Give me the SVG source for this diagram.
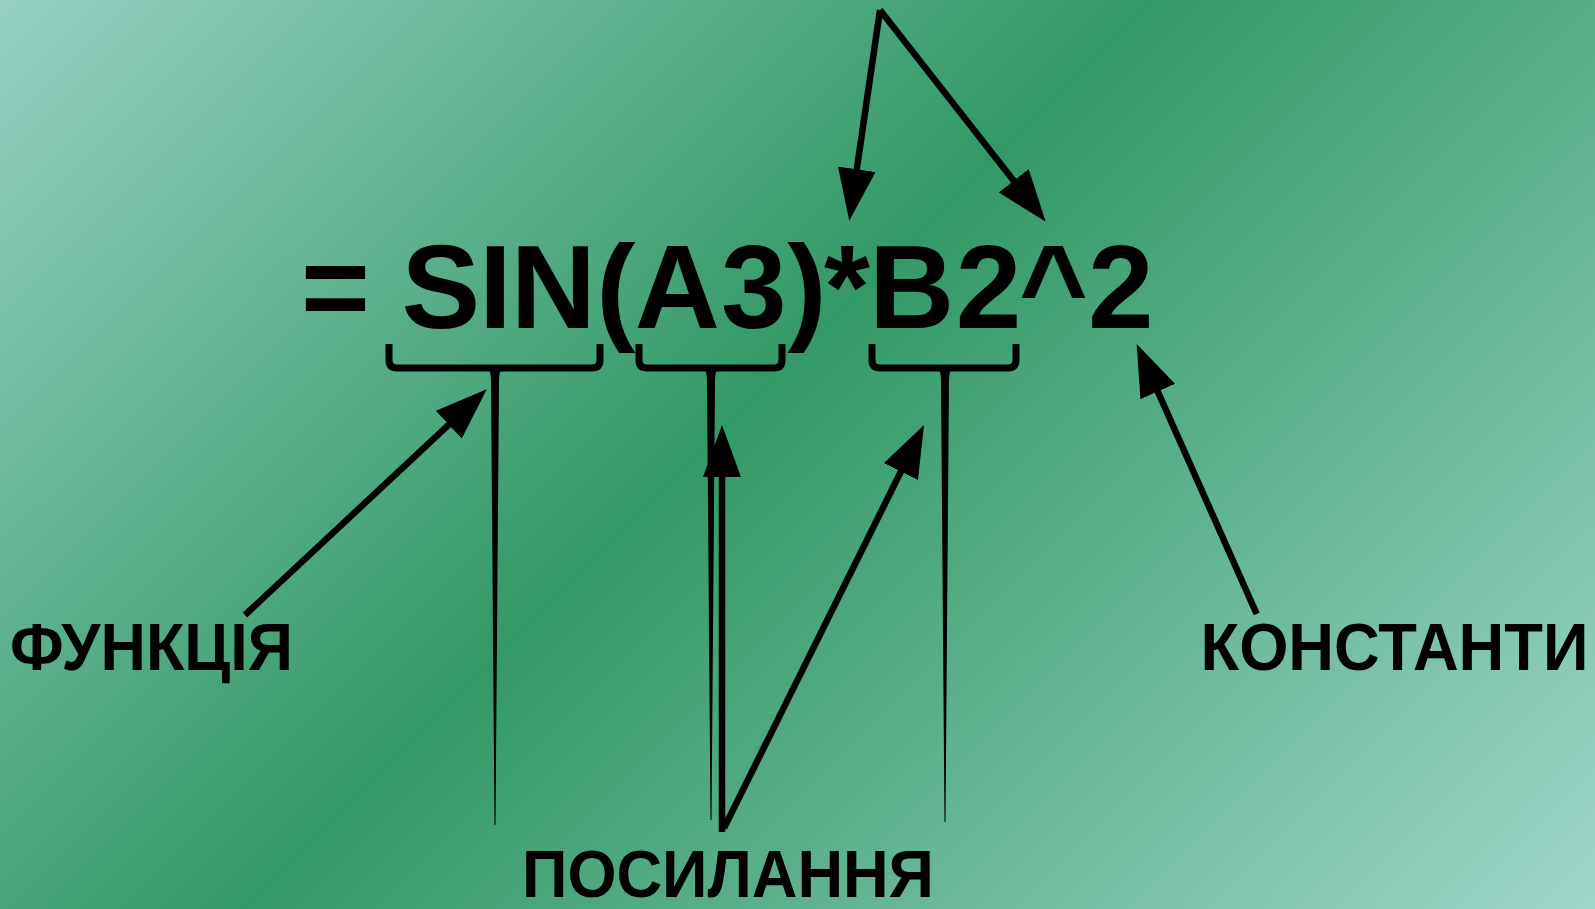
<svg xmlns="http://www.w3.org/2000/svg" width="1595" height="909" viewBox="0 0 1595 909">
<defs>
<linearGradient id="bg" gradientUnits="userSpaceOnUse" x1="0" y1="0" x2="1252" y2="1252">
<stop offset="0" stop-color="#96d1c3"/>
<stop offset="0.46" stop-color="#339966"/>
<stop offset="1" stop-color="#9fd7ca"/>
</linearGradient>
<marker id="ah" markerUnits="userSpaceOnUse" viewBox="0 0 52 38" markerWidth="52" markerHeight="38" refX="2" refY="19" orient="auto">
<path d="M0,0 L52,19 L0,38 Z" fill="#000"/>
</marker>
</defs>
<style>
.t{font-family:"Liberation Sans",Arial,sans-serif;font-weight:bold;fill:#000}
.br{fill:none;stroke:#000;stroke-width:7}
.stem{fill:#000}
.ar{fill:none;stroke:#000;stroke-width:6.5;marker-end:url(#ah)}
</style>
<rect width="1595" height="909" fill="url(#bg)"/>
<g id="formula">
<text class="t" font-size="118" y="328" x="301 370 401.5 479 510.8 596.2 634.7 721 787.2 824 869 955.8 1019 1088">= SIN(A3)*B2^2</text>
</g>
<g id="brace-sin">
<path class="br" d="M389,344 L389,360 Q389,368 397,368 L592,368 Q600,368 600,360 L600,344"/>
<path class="stem" d="M489,370 Q491,373 491,382 L494.5,825 L495.5,825 L499,382 Q499,373 501,370 Z"/>
</g>
<g id="brace-a3">
<path class="br" d="M639,344 L639,360 Q639,368 647,368 L774,368 Q782,368 782,360 L782,344"/>
<path class="stem" d="M705,370 Q707,373 707,382 L710.5,820 L711.5,820 L715,382 Q715,373 717,370 Z"/>
</g>
<g id="brace-b2">
<path class="br" d="M872,344 L872,360 Q872,368 880,368 L1008,368 Q1016,368 1016,360 L1016,344"/>
<path class="stem" d="M939,370 Q941,373 941,382 L944.5,822 L945.5,822 L949,382 Q949,373 951,370 Z"/>
</g>
<g id="label-funktsiya">
<text class="t" font-size="66" x="10" y="670" textLength="283" lengthAdjust="spacingAndGlyphs">ФУНКЦІЯ</text>
</g>
<g id="label-konstanty">
<text class="t" font-size="66" x="1200.5" y="670" textLength="388" lengthAdjust="spacingAndGlyphs">КОНСТАНТИ</text>
</g>
<g id="label-posylannya">
<text class="t" font-size="66" x="522" y="896.7" textLength="412" lengthAdjust="spacingAndGlyphs">ПОСИЛАННЯ</text>
</g>
<g id="connectors">
<line class="ar" x1="245" y1="615" x2="450.2" y2="423.4"/>
<line class="ar" x1="1256.7" y1="614" x2="1157" y2="389.7"/>
<line class="ar" x1="880" y1="10" x2="856.5" y2="171.2"/>
<line class="ar" x1="880" y1="10" x2="1014.9" y2="182.3"/>
<line class="ar" x1="722" y1="832" x2="722" y2="475"/>
<line class="ar" x1="724" y1="828" x2="901.8" y2="469.8"/>
</g>
</svg>
